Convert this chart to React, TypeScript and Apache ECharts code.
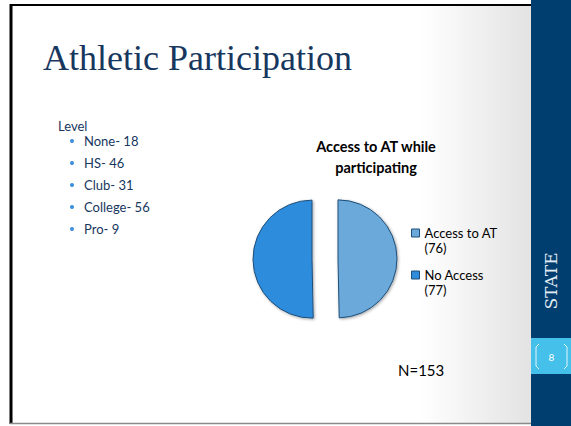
import React, { useEffect, useRef } from "react";
import * as echarts from "echarts";

const slideTitle = "Athletic Participation";
const listHeading = "Level";
const levelNames = ["None", "HS", "Club", "College", "Pro"];
const levelCounts = [18, 46, 31, 56, 9];

const pieTitle = "Access to AT while\nparticipating";
const accessNames = ["Access to AT", "No Access"];
const accessValues = [76, 77];
const accessColors = ["#6aa9da", "#2f8cdc"];
const totalLabel = "N=153";
const sideLabel = "STATE";
const pageNumber = "8";

const NAVY = "#17375e";
const BODY_FONT = "Lato, 'Open Sans', sans-serif";

export default function App() {
  const ref = useRef<HTMLDivElement>(null);

  useEffect(() => {
    if (!ref.current) return;
    const chart = echarts.init(ref.current, null, { renderer: "svg" });

    const listGraphics: any[] = [];
    levelNames.forEach((name, i) => {
      const y = 141 + i * 22;
      listGraphics.push({
        type: "circle",
        shape: { cx: 72, cy: y, r: 2 },
        style: { fill: "#3a8fdf" },
        silent: true,
      });
      listGraphics.push({
        type: "text",
        x: 84,
        y,
        style: {
          text: `${name}- ${levelCounts[i]}`,
          fill: NAVY,
          font: `13px ${BODY_FONT}`,
          textVerticalAlign: "middle",
          verticalAlign: "middle",
        },
        silent: true,
      });
    });

    chart.setOption({
      animation: false,
      backgroundColor: "#ffffff",
      title: {
        text: pieTitle,
        left: 376,
        top: 136,
        textAlign: "center",
        padding: 0,
        textStyle: {
          fontFamily: BODY_FONT,
          fontSize: 14.5,
          fontWeight: "bold",
          color: "#000",
          lineHeight: 21,
        },
      },
      legend: {
        orient: "vertical",
        left: 411,
        top: 210.5,
        padding: 0,
        itemWidth: 8,
        itemHeight: 8,
        itemGap: -3,
        icon: "rect",
        selectedMode: false,
        itemStyle: { borderColor: "#1f4e79", borderWidth: 1, shadowBlur: 0, shadowOffsetX: 0, shadowOffsetY: 0 },
        formatter: (name: string) => {
          const i = accessNames.indexOf(name);
          return `\n${name}\n(${accessValues[i]})`;
        },
        textStyle: {
          fontFamily: BODY_FONT,
          fontSize: 13,
          color: "#000",
          lineHeight: 15,
        },
      },
      graphic: [
        {
          type: "rect",
          z: -10,
          shape: { x: 420, y: 4, width: 111, height: 420 },
          style: {
            fill: new echarts.graphic.LinearGradient(0, 0, 1, 0, [
              { offset: 0, color: "#ffffff" },
              { offset: 1, color: "#e3e3e3" },
            ]),
          },
          silent: true,
        },
        {
          type: "line",
          shape: { x1: 11, y1: 5, x2: 531, y2: 5 },
          style: { stroke: "#000", lineWidth: 2 },
          silent: true,
        },
        {
          type: "line",
          shape: { x1: 11, y1: 4, x2: 11, y2: 424 },
          style: { stroke: "#000", lineWidth: 3 },
          silent: true,
        },
        {
          type: "line",
          shape: { x1: 10, y1: 423.5, x2: 531, y2: 423.5 },
          style: { stroke: "#8a8a8a", lineWidth: 1.5 },
          silent: true,
        },
        {
          type: "rect",
          shape: { x: 531, y: 0, width: 40, height: 426 },
          style: { fill: "#003e6f" },
          silent: true,
        },
        {
          type: "rect",
          shape: { x: 531, y: 338, width: 40, height: 36 },
          style: { fill: "#44c0ea" },
          silent: true,
        },
        {
          type: "polyline",
          shape: { points: [[539, 344], [536, 347], [536, 366], [539, 369]] },
          style: { stroke: "rgba(255,255,255,0.85)", lineWidth: 1, fill: "none" },
          silent: true,
        },
        {
          type: "polyline",
          shape: { points: [[564, 344], [567, 347], [567, 366], [564, 369]] },
          style: { stroke: "rgba(255,255,255,0.85)", lineWidth: 1, fill: "none" },
          silent: true,
        },
        {
          type: "text",
          x: 551.5,
          y: 356.5,
          style: {
            text: pageNumber,
            fill: "#ffffff",
            font: `10px ${BODY_FONT}`,
            textAlign: "center",
            textVerticalAlign: "middle",
            align: "center",
            verticalAlign: "middle",
          },
          silent: true,
        },
        {
          type: "text",
          x: 550.5,
          y: 281,
          rotation: Math.PI / 2,
          style: {
            text: sideLabel,
            fill: "#e4ecf4",
            font: `17px 'DejaVu Serif', serif`,
            textAlign: "center",
            textVerticalAlign: "middle",
            align: "center",
            verticalAlign: "middle",
          },
          silent: true,
        },
        {
          type: "text",
          x: 43,
          y: 40,
          style: {
            text: slideTitle,
            fill: NAVY,
            font: `36px 'Liberation Serif', serif`,
            textVerticalAlign: "top",
            verticalAlign: "top",
          },
          silent: true,
        },
        {
          type: "text",
          x: 58,
          y: 126,
          style: {
            text: listHeading,
            fill: NAVY,
            font: `13px ${BODY_FONT}`,
            textVerticalAlign: "middle",
            verticalAlign: "middle",
          },
          silent: true,
        },
        ...listGraphics,
        {
          type: "text",
          x: 398,
          y: 370,
          style: {
            text: totalLabel,
            fill: "#000",
            font: `15px ${BODY_FONT}`,
            textVerticalAlign: "middle",
            verticalAlign: "middle",
          },
          silent: true,
        },
      ],
      series: [
        {
          type: "pie",
          center: [325, 259],
          radius: 59,
          startAngle: 90,
          clockwise: true,
          selectedMode: "multiple",
          selectedOffset: 13,
          label: { show: false },
          labelLine: { show: false },
          emphasis: { disabled: true },
          itemStyle: {
            borderColor: "#1f4e79",
            borderWidth: 1,
            shadowBlur: 3,
            shadowColor: "rgba(0,0,0,0.35)",
            shadowOffsetX: 1,
            shadowOffsetY: 1,
          },
          data: accessNames.map((name, i) => ({
            name,
            value: accessValues[i],
            selected: true,
            itemStyle: { color: accessColors[i] },
          })),
        },
      ],
    });

    return () => chart.dispose();
  }, []);

  return (
    <div
      ref={ref}
      style={{ position: "fixed", left: 0, top: 0, width: 571, height: 426 }}
    />
  );
}
